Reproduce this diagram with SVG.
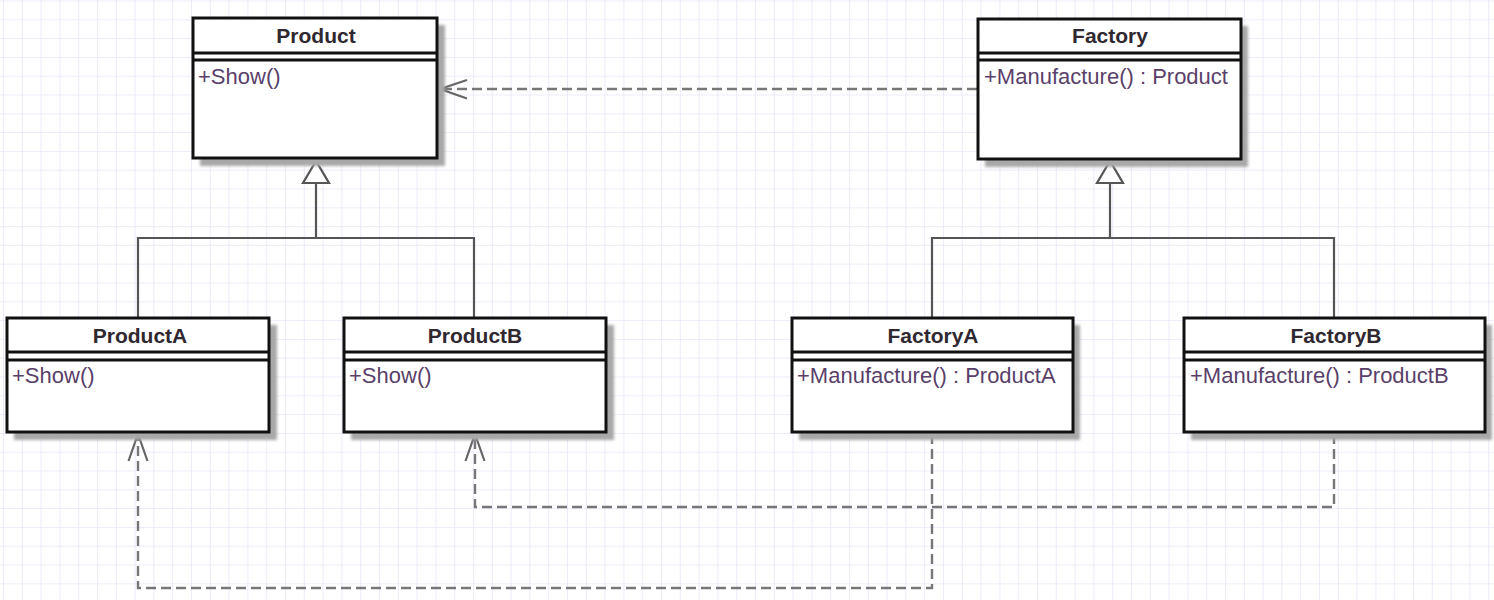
<svg xmlns="http://www.w3.org/2000/svg" width="1494" height="600" viewBox="0 0 1494 600">
<defs>
<pattern id="grid" x="3" y="0.5" width="18.8" height="18.8" patternUnits="userSpaceOnUse">
<path d="M0 0 H18.8 M0 0 V18.8" fill="none" stroke="#e6e6f8" stroke-width="1.6"/>
</pattern>
<filter id="blur" x="-10%" y="-10%" width="130%" height="130%"><feGaussianBlur stdDeviation="1.5"/></filter>
</defs>
<style>
.box{fill:#fff;stroke:#111;stroke-width:3}
.shadow{fill:#a8a8a8;filter:url(#blur)}
.sep{stroke:#111;stroke-width:3;fill:none}
.title{font-family:"Liberation Sans",Arial,sans-serif;font-weight:bold;font-size:21px;fill:#302830;text-anchor:middle}
.op{font-family:"Liberation Sans",Arial,sans-serif;font-size:22px;fill:#5a3f6a}
.solid{fill:none;stroke:#555;stroke-width:2.2}
.tri{fill:#fff;stroke:#555;stroke-width:2.2}
.dash{fill:none;stroke:#777;stroke-width:2.4;stroke-dasharray:10 5}
.head{fill:none;stroke:#666;stroke-width:2.2}
</style>
<rect width="1494" height="600" fill="#fff"/>
<rect width="1494" height="600" fill="url(#grid)"/>

<g id="connectors">
<polyline class="solid" points="138,318 138,238 474,238 474,318"/>
<line class="solid" x1="316" y1="238" x2="316" y2="183"/>
<polygon class="tri" points="316,161 303,183 329,183"/>
<polyline class="solid" points="932,318 932,238 1334,238 1334,318"/>
<line class="solid" x1="1110" y1="238" x2="1110" y2="183"/>
<polygon class="tri" points="1110,161 1097,183 1123,183"/>
<line class="dash" x1="977" y1="89" x2="442" y2="89"/>
<polyline class="head" points="467,80 440,89 467,98.5"/>
<polyline class="dash" points="932,434 932,588 138,588 138,436"/>
<polyline class="head" points="128.5,461 138,434 147.5,461"/>
<polyline class="dash" points="1334,434 1334,507 475,507 475,436"/>
<polyline class="head" points="465.5,461 475,434 484.5,461"/>
</g>

<g id="Product">
<rect class="shadow" x="200" y="25" width="245" height="141"/>
<rect class="box" x="193" y="18" width="244" height="140"/>
<path class="sep" d="M193 53 H437 M193 60 H437"/>
<text class="title" x="316" y="43">Product</text>
<text class="op" x="198" y="84">+Show()</text>
</g>

<g id="Factory">
<rect class="shadow" x="985" y="26" width="263" height="141"/>
<rect class="box" x="978" y="19" width="263" height="140"/>
<path class="sep" d="M978 53 H1241 M978 60 H1241"/>
<text class="title" x="1110" y="43">Factory</text>
<text class="op" x="984" y="84">+Manufacture() : Product</text>
</g>

<g id="ProductA">
<rect class="shadow" x="14" y="325" width="263" height="115"/>
<rect class="box" x="7" y="318" width="262" height="114"/>
<path class="sep" d="M7 352 H269 M7 360 H269"/>
<text class="title" x="140" y="343">ProductA</text>
<text class="op" x="12" y="383">+Show()</text>
</g>

<g id="ProductB">
<rect class="shadow" x="351" y="325" width="263" height="115"/>
<rect class="box" x="344" y="318" width="262" height="114"/>
<path class="sep" d="M344 352 H606 M344 360 H606"/>
<text class="title" x="475" y="343">ProductB</text>
<text class="op" x="349" y="383">+Show()</text>
</g>

<g id="FactoryA">
<rect class="shadow" x="799" y="325" width="281" height="115"/>
<rect class="box" x="792" y="318" width="281" height="114"/>
<path class="sep" d="M792 352 H1073 M792 360 H1073"/>
<text class="title" x="933" y="343">FactoryA</text>
<text class="op" x="797" y="383">+Manufacture() : ProductA</text>
</g>

<g id="FactoryB">
<rect class="shadow" x="1191" y="325" width="301" height="115"/>
<rect class="box" x="1184" y="318" width="301" height="114"/>
<path class="sep" d="M1184 352 H1485 M1184 360 H1485"/>
<text class="title" x="1336" y="343">FactoryB</text>
<text class="op" x="1190" y="383">+Manufacture() : ProductB</text>
</g>
</svg>
